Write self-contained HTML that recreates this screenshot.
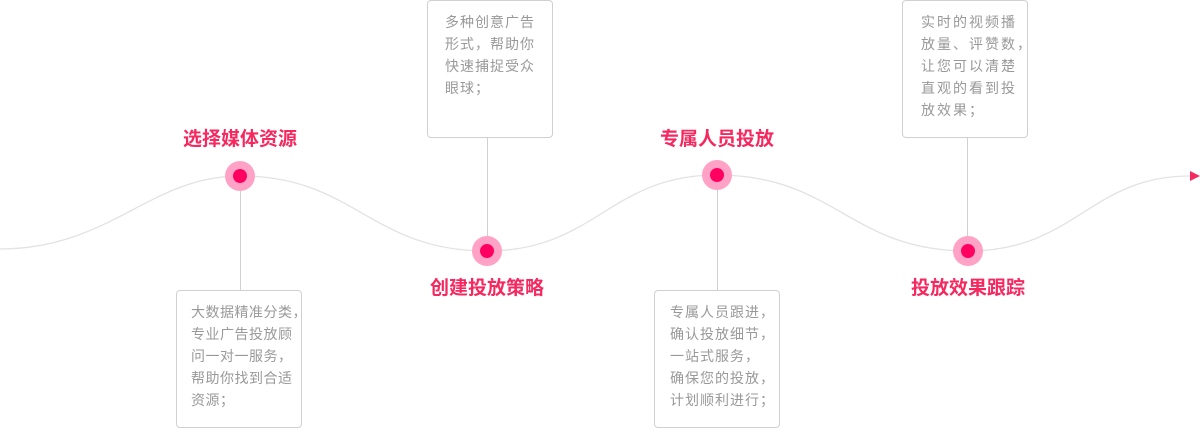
<!DOCTYPE html>
<html><head><meta charset="utf-8"><style>
body{margin:0;width:1200px;height:428px;position:relative;background:#fff;overflow:hidden;font-family:"Liberation Sans","Noto Sans CJK SC",sans-serif}
.box{position:absolute;width:126px;height:138px;border:1px solid #d0d0d0;border-radius:4px;box-sizing:border-box;color:#999;font-size:14px;line-height:22px;padding:10px 0 0 14px;letter-spacing:1px;white-space:nowrap}
.t{position:absolute;width:200px;text-align:center;color:#f5285f;font-size:19px;font-weight:bold;line-height:24px}
</style></head><body>
<svg width="1200" height="428" style="position:absolute;left:0;top:0">
<path d="M0,249 C110,249 150,176 240,176 C355,176 370,251 487,251 C595,251 610,175 717,175 C835,175 850,251 968,251 C1075,251 1090,176 1190,176" fill="none" stroke="#e2e2e2" stroke-width="1.3"/>
<polygon points="1190,171 1200,176 1190,181" fill="#f5285f"/>
<g stroke="#d0d0d0" stroke-width="1">
<line x1="240.5" y1="176" x2="240.5" y2="290"/>
<line x1="487.5" y1="138" x2="487.5" y2="251"/>
<line x1="717.5" y1="175" x2="717.5" y2="290"/>
<line x1="967.5" y1="138" x2="967.5" y2="251"/>
</g>
<g><circle cx="240" cy="176" r="15" fill="#ffa2c5"/><circle cx="240" cy="176" r="7" fill="#ff0060"/>
<circle cx="487" cy="251" r="15" fill="#ffa2c5"/><circle cx="487" cy="251" r="7" fill="#ff0060"/>
<circle cx="717" cy="175" r="15" fill="#ffa2c5"/><circle cx="717" cy="175" r="7" fill="#ff0060"/>
<circle cx="968" cy="251" r="15" fill="#ffa2c5"/><circle cx="968" cy="251" r="7" fill="#ff0060"/></g>
</svg>
<div class="t" style="left:140px;top:128px">选择媒体资源</div>
<div class="t" style="left:387px;top:277px">创建投放策略</div>
<div class="t" style="left:617px;top:128px">专属人员投放</div>
<div class="t" style="left:868px;top:277px">投放效果跟踪</div>
<div class="box" style="left:176px;top:290px;padding-left:14px;letter-spacing:0.5px">大数据精准分类，<br>专业广告投放顾<br>问一对一服务，<br>帮助你找到合适<br>资源；</div>
<div class="box" style="left:427px;top:0;padding-left:17px">多种创意广告<br>形式，帮助你<br>快速捕捉受众<br>眼球；</div>
<div class="box" style="left:654px;top:290px;padding-left:15px">专属人员跟进，<br>确认投放细节，<br>一站式服务，<br>确保您的投放，<br>计划顺利进行；</div>
<div class="box" style="left:902px;top:0;padding-left:18px;letter-spacing:2px">实时的视频播<br>放量、评赞数，<br>让您可以清楚<br>直观的看到投<br>放效果；</div>
</body></html>
